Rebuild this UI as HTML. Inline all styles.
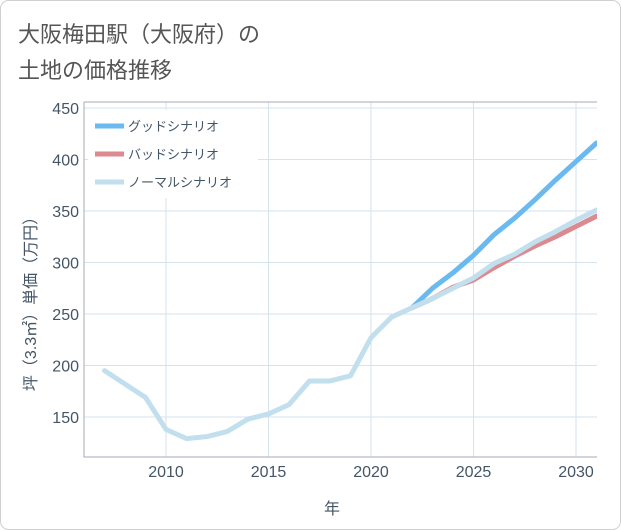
<!DOCTYPE html>
<html><head><meta charset="utf-8"><style>
body{margin:0;background:#fff;}
svg{display:block;font-family:"Liberation Sans","Noto Sans CJK JP",sans-serif;}
</style></head><body>
<svg id="chart" width="621" height="530" viewBox="0 0 621 530">
<rect x="0.5" y="0.5" width="620" height="529" rx="8" fill="#fff" stroke="#d0d0d0"/>
<text x="18" y="42" font-size="22" fill="#555">大阪梅田駅（大阪府）の</text>
<text x="18" y="78" font-size="22" fill="#555">土地の価格推移</text>
<g id="grid"></g>
<g id="axes"></g>
<g id="series"></g>
<text x="332" y="514" font-size="16" fill="#445566" text-anchor="middle">年</text>
<text transform="translate(36,300) rotate(-90)" font-size="16" fill="#445566" text-anchor="middle">坪（3.3㎡）単価（万円）</text>
<g>
<rect x="88" y="110" width="170" height="88" fill="#fff"/>
<line x1="95" y1="126" x2="124" y2="126" stroke="#6abaf0" stroke-width="5"/>
<text x="128" y="131" font-size="13" fill="#445566">グッドシナリオ</text>
<line x1="95" y1="154" x2="124" y2="154" stroke="#dc8a90" stroke-width="5"/>
<text x="128" y="159" font-size="13" fill="#445566">バッドシナリオ</text>
<line x1="95" y1="182" x2="124" y2="182" stroke="#c2dfee" stroke-width="5"/>
<text x="128" y="187" font-size="13" fill="#445566">ノーマルシナリオ</text>
</g>
</svg>
<script>
const normalYears=[2007,2008,2009,2010,2011,2012,2013,2014,2015,2016,2017,2018,2019,2020,2021,2022,2023,2024,2025,2026,2027,2028,2029,2030,2031];
const normalValues=[195,182,169,138,129,131,136,148,153,162,185,185,190,227,247,256,265,275,285,299,308,320,330,341,351];
const forecastYears=[2022,2023,2024,2025,2026,2027,2028,2029,2030,2031];
const goodValues=[256,275,290,307,327,343,361,380,398,416];
const badValues=[256,265,276,283,295,306,316,325,335,345];
const xTicks=[2010,2015,2020,2025,2030];
const yTicks=[150,200,250,300,350,400,450];
const L=84,R=597,T=102,B=457;
const xs=y=>166+(y-2010)*20.5;
const ys=v=>417-(v-150)*1.03;
const NS="http://www.w3.org/2000/svg";
function mk(tag,attrs,parent){const e=document.createElementNS(NS,tag);for(const k in attrs)e.setAttribute(k,attrs[k]);parent.appendChild(e);return e;}
const grid=document.getElementById('grid'),axes=document.getElementById('axes'),series=document.getElementById('series');
xTicks.forEach(t=>{const l=mk('line',{x1:xs(t),x2:xs(t),y1:T,y2:B,stroke:'#d5e3ec'},grid);


const tx=mk('text',{x:xs(t),y:477,'font-size':16,fill:'#445566','text-anchor':'middle'},axes);tx.textContent=t;

});
yTicks.forEach(t=>{const l=mk('line',{x1:L,x2:R,y1:ys(t),y2:ys(t),stroke:'#d5e3ec'},grid);


const tx=mk('text',{x:79,y:ys(t)+6,'font-size':16,fill:'#445566','text-anchor':'end'},axes);tx.textContent=t;

});
const fr=mk('path',{d:`M${L},${T}V${B}H${R}M${L},${T}H${R}`,stroke:'#aab',fill:'none'},axes);


const clip=mk('clipPath',{id:'pc'},series);mk('rect',{x:L,y:T,width:R-L,height:B-T},clip);
function line(xv,yv,color,name){const d=xv.map((x,i)=>(i?'L':'M')+xs(x)+','+ys(yv[i])).join('');
const p=mk('path',{d,stroke:color,'stroke-width':5,fill:'none','stroke-linejoin':'round','stroke-linecap':'round','clip-path':'url(#pc)'},series);

}
line(forecastYears,goodValues,'#6abaf0','good-scenario-line');
line(forecastYears,badValues,'#dc8a90','bad-scenario-line');
line(normalYears,normalValues,'#c2dfee','normal-scenario-line');
</script>
</body></html>
